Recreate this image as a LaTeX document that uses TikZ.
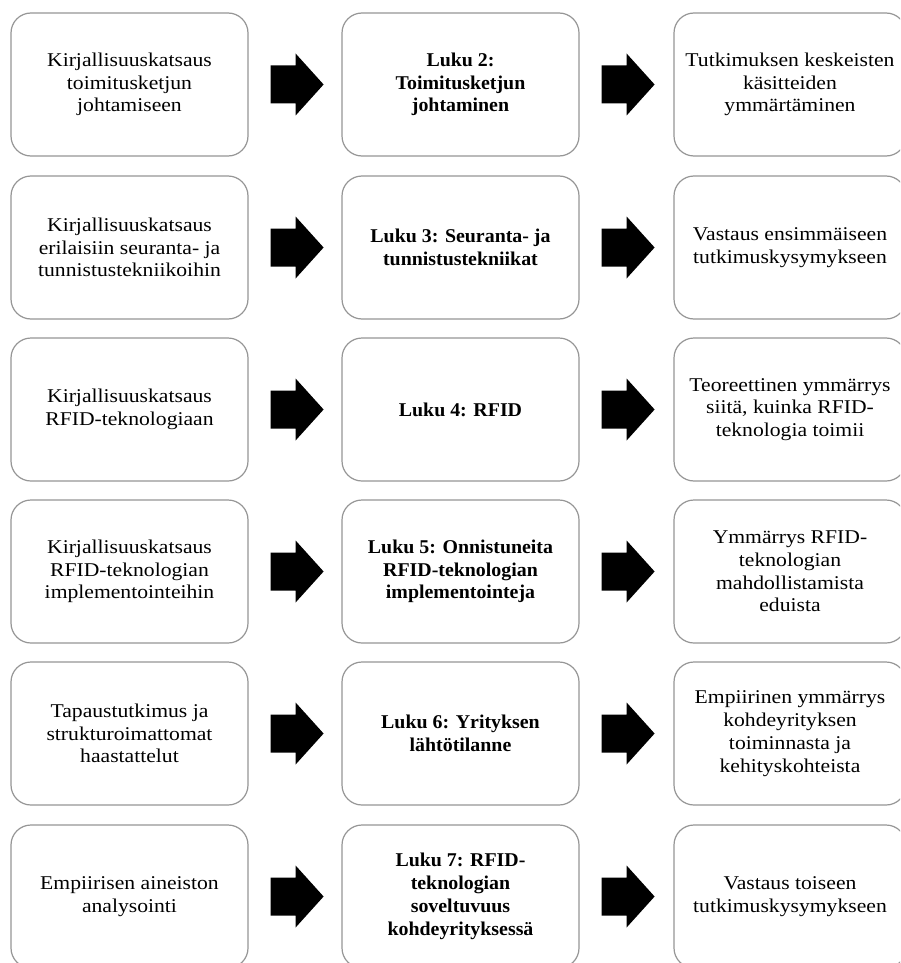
\documentclass[tikz,border=0pt]{standalone}
\usepackage{fontspec}
\setmainfont{Liberation Serif}[FakeStretch=1.11]
\newfontfamily\boldfam{Liberation Serif}[FakeStretch=1.02]
\definecolor{boxline}{RGB}{150,150,150}
\tikzset{
  card/.style={draw=boxline, line width=1.2pt, rounded corners=20pt, fill=white,
    minimum width=237pt, minimum height=143pt, align=center, inner sep=0pt,
    font=\fontsize{19.5}{22.8}\selectfont, text=black},
  rcard/.style={card, minimum width=232pt},
  bcard/.style={card, font=\boldfam\bfseries\fontsize{19.5}{22.8}\selectfont},
  blockarrow/.style={fill=black, draw=none}
}
\newcommand{\blockarr}[1]{%
  \fill[blockarrow, shift={(#1.east)}] (22,-19) -- (47,-19) -- (47,-31) -- (75,0) -- (47,31) -- (47,19) -- (22,19) -- cycle;}
\begin{document}
\begin{tikzpicture}[x=1pt, y=-1pt]
\useasboundingbox (0,0) rectangle (900,963);
\fill[white] (0,0) rectangle (900,963);
\clip (0,0) rectangle (900,963);

% Row 1
\node[card]  (l1) at (129.5,84.5) {Kirjallisuuskatsaus\\toimitusketjun\\johtamiseen};
\node[bcard] (m1) at (460.5,84.5) {Luku 2:\\Toimitusketjun\\johtaminen};
\node[rcard] (r1) at (790,84.5) {Tutkimuksen keskeisten\\käsitteiden\\ymmärtäminen};
% Row 2
\node[card]  (l2) at (129.5,247.5) {Kirjallisuuskatsaus\\erilaisiin seuranta- ja\\tunnistustekniikoihin};
\node[bcard] (m2) at (460.5,247.5) {Luku 3: Seuranta- ja\\tunnistustekniikat};
\node[rcard] (r2) at (790,247.5) {Vastaus ensimmäiseen\\tutkimuskysymykseen};
% Row 3
\node[card]  (l3) at (129.5,409.5) {Kirjallisuuskatsaus\\RFID-teknologiaan};
\node[bcard] (m3) at (460.5,409.5) {Luku 4: RFID};
\node[rcard] (r3) at (790,409.5) {Teoreettinen ymmärrys\\siitä, kuinka RFID-\\teknologia toimii};
% Row 4
\node[card]  (l4) at (129.5,571.5) {Kirjallisuuskatsaus\\RFID-teknologian\\implementointeihin};
\node[bcard] (m4) at (460.5,571.5) {Luku 5: Onnistuneita\\RFID-teknologian\\implementointeja};
\node[rcard] (r4) at (790,571.5) {Ymmärrys RFID-\\teknologian\\mahdollistamista\\eduista};
% Row 5
\node[card]  (l5) at (129.5,733.5) {Tapaustutkimus ja\\strukturoimattomat\\haastattelut};
\node[bcard] (m5) at (460.5,733.5) {Luku 6: Yrityksen\\lähtötilanne};
\node[rcard] (r5) at (790,733.5) {Empiirinen ymmärrys\\kohdeyrityksen\\toiminnasta ja\\kehityskohteista};
% Row 6
\node[card]  (l6) at (129.5,896.5) {Empiirisen aineiston\\analysointi};
\node[bcard] (m6) at (460.5,896.5) {Luku 7: RFID-\\teknologian\\soveltuvuus\\kohdeyrityksessä};
\node[rcard] (r6) at (790,896.5) {Vastaus toiseen\\tutkimuskysymykseen};

% Block arrows
\foreach \n in {l1,m1,l2,m2,l3,m3,l4,m4,l5,m5,l6,m6} {\blockarr{\n}}
\end{tikzpicture}
\end{document}
